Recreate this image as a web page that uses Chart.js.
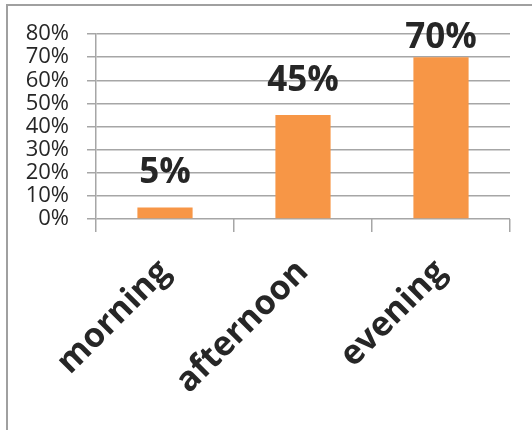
<!DOCTYPE html>
<html>
<head>
<meta charset="utf-8">
<script src="https://cdn.jsdelivr.net/npm/chart.js@4"></script>
<style>
  html, body { margin: 0; padding: 0; background: #fff; }
  #wrap { width: 532px; height: 430px; }
</style>
</head>
<body>
<div id="wrap"><canvas id="chart" width="532" height="430"></canvas></div>
<script>
const categories = ["morning", "afternoon", "evening"];
const shares = [5, 45, 70];
const yTicks = [0, 10, 20, 30, 40, 50, 60, 70, 80];

const gridColor = "#a6a6a6";
const textColor = "#262626";

// outer frame (only left and top edges show in the picture)
const framePlugin = {
  id: "frame",
  beforeDraw(chart) {
    const ctx = chart.ctx;
    ctx.save();
    ctx.strokeStyle = "#a0a0a0";
    ctx.lineWidth = 2;
    ctx.beginPath();
    ctx.moveTo(7, 430);
    ctx.lineTo(7, 5);
    ctx.lineTo(532, 5);
    ctx.stroke();
    ctx.restore();
  }
};

const valueLabels = {
  id: "valueLabels",
  afterDatasetsDraw(chart) {
    const ctx = chart.ctx;
    const meta = chart.getDatasetMeta(0);
    ctx.save();
    ctx.font = "bold 35px 'Open Sans'";
    ctx.fillStyle = textColor;
    ctx.textAlign = "center";
    ctx.textBaseline = "alphabetic";
    meta.data.forEach((bar, i) => {
      const y = Math.max(bar.y - 24, chart.chartArea.top + 14);
      ctx.fillText(shares[i] + "%", bar.x, y);
    });
    ctx.restore();
  }
};

new Chart(document.getElementById("chart"), {
  type: "bar",
  data: {
    labels: categories,
    datasets: [{
      data: shares,
      backgroundColor: "#f79646",
      borderWidth: 0,
      categoryPercentage: 1,
      barPercentage: 0.4
    }]
  },
  options: {
    responsive: false,
    animation: false,
    layout: { padding: { left: 0, top: 34, right: 22, bottom: 0 } },
    plugins: {
      legend: { display: false },
      tooltip: { enabled: false }
    },
    scales: {
      x: {
        afterFit: s => { s.height = 211; },
        grid: {
          offset: true,
          drawOnChartArea: false,
          color: gridColor,
          lineWidth: 1.5,
          tickLength: 13
        },
        border: { display: false },
        ticks: {
          color: textColor,
          font: { family: "'Open Sans'", size: 34, weight: "bold" },
          minRotation: 45,
          maxRotation: 45,
          padding: 20
        }
      },
      y: {
        min: 0,
        max: 80,
        afterFit: s => { s.width = 96; },
        afterBuildTicks: s => { s.ticks = yTicks.map(v => ({ value: v })); },
        grid: {
          color: gridColor,
          lineWidth: 1.5,
          tickLength: 9
        },
        border: { display: true, color: gridColor, width: 1.5 },
        ticks: {
          color: textColor,
          font: { family: "'Open Sans'", size: 22 },
          padding: 18,
          autoSkip: false,
          callback: v => v + "%"
        }
      }
    }
  },
  plugins: [framePlugin, valueLabels]
});
</script>
</body>
</html>
